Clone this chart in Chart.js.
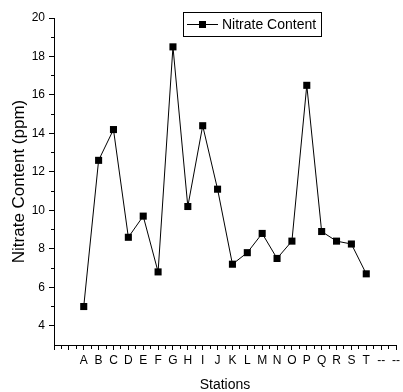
<!DOCTYPE html>
<html><head><meta charset="utf-8">
<script src="https://cdn.jsdelivr.net/npm/chart.js@4.4.0/dist/chart.umd.min.js"></script>
<style>html,body{margin:0;padding:0;background:#fff}canvas{display:block}</style>
</head><body>
<canvas id="c" width="403" height="392"></canvas>
<script>
const axisLabels = ['', '', 'A','B','C','D','E','F','G','H','I','J','K','L','M','N','O','P','Q','R','S','T','--','--'];
const stations = ['A','B','C','D','E','F','G','H','I','J','K','L','M','N','O','P','Q','R','S','T'];
const nitrate = [5.0,12.6,14.2,8.6,9.7,6.8,18.5,10.2,14.4,11.1,7.2,7.8,8.8,7.5,8.4,16.5,8.9,8.4,8.25,6.7];
const yMajorTicks = [4,6,8,10,12,14,16,18,20];
const yMinorTicks = [5,7,9,11,13,15,17,19];
const seriesName = 'Nitrate Content';
const yTitle = 'Nitrate Content (ppm)';
const xTitle = 'Stations';

const FONT = "'Liberation Sans', Arial, sans-serif";
Chart.defaults.font.family = FONT;
Chart.defaults.color = '#000';

const legendPlugin = {
  id: 'boxLegend',
  afterDraw(chart) {
    const ctx = chart.ctx;
    ctx.save();
    ctx.strokeStyle = '#000';
    ctx.lineWidth = 1;
    ctx.strokeRect(183.5, 12.5, 138, 24);
    ctx.beginPath();
    ctx.moveTo(187, 24.5); ctx.lineTo(218, 24.5);
    ctx.stroke();
    ctx.fillStyle = '#000';
    ctx.fillRect(199, 21, 7, 7);
    ctx.font = "14px " + FONT;
    ctx.textBaseline = 'middle';
    ctx.textAlign = 'left';
    ctx.fillText(seriesName, 222, 25);
    ctx.restore();
  }
};

new Chart(document.getElementById('c'), {
  type: 'line',
  data: {
    datasets: [{
      label: seriesName,
      data: stations.map((s, i) => ({x: axisLabels.indexOf(s), y: nitrate[i]})),
      borderColor: '#000',
      backgroundColor: '#000',
      borderWidth: 1,
      pointStyle: 'rect',
      pointRadius: 5,
      pointHoverRadius: 5,
      pointBorderWidth: 0,
      tension: 0,
      fill: false
    }]
  },
  options: {
    responsive: false,
    animation: false,
    events: [],
    layout: {padding: {left: 0, right: 4, top: 18, bottom: 0}},
    plugins: {legend: {display: false}, tooltip: {enabled: false}},
    scales: {
      x: {
        type: 'linear',
        min: 0, max: axisLabels.length - 1,
        afterBuildTicks(scale) {
          const t = [];
          for (let v = 0; v <= axisLabels.length - 1; v += 0.5) t.push({value: v});
          scale.ticks = t;
        },
        afterFit(scale) { scale.height = 47; },
        ticks: {
          autoSkip: false, maxRotation: 0, padding: 3,
          font: {size: 12},
          callback: (v) => Number.isInteger(v) ? axisLabels[v] : ''
        },
        grid: {
          drawOnChartArea: false, drawTicks: true, tickLength: 5,
          color: '#000', tickColor: '#000',
          tickBorderDash: (ctx) => (ctx.tick && !Number.isInteger(ctx.tick.value)) ? [3, 20] : []
        },
        border: {display: true, color: '#000', width: 1},
        title: {display: true, text: xTitle, font: {size: 14}, padding: {top: 0, bottom: -2}}
      },
      y: {
        type: 'linear',
        min: 3, max: 20,
        afterBuildTicks(scale) {
          scale.ticks = yMajorTicks.concat(yMinorTicks).sort((a, b) => a - b).map(v => ({value: v}));
        },
        afterFit(scale) { scale.width = 54; },
        ticks: {
          autoSkip: false, padding: 4,
          font: {size: 12},
          callback: (v) => yMajorTicks.includes(v) ? String(v) : ''
        },
        grid: {
          drawOnChartArea: false, drawTicks: true, tickLength: 5,
          color: '#000', tickColor: '#000',
          tickBorderDash: (ctx) => (ctx.tick && !yMajorTicks.includes(ctx.tick.value)) ? [0, 2, 3, 20] : []
        },
        border: {display: true, color: '#000', width: 1},
        title: {display: true, text: yTitle, font: {size: 17}, padding: {top: 9, bottom: 0}}
      }
    }
  },
  plugins: [legendPlugin]
});
</script>
</body></html>
